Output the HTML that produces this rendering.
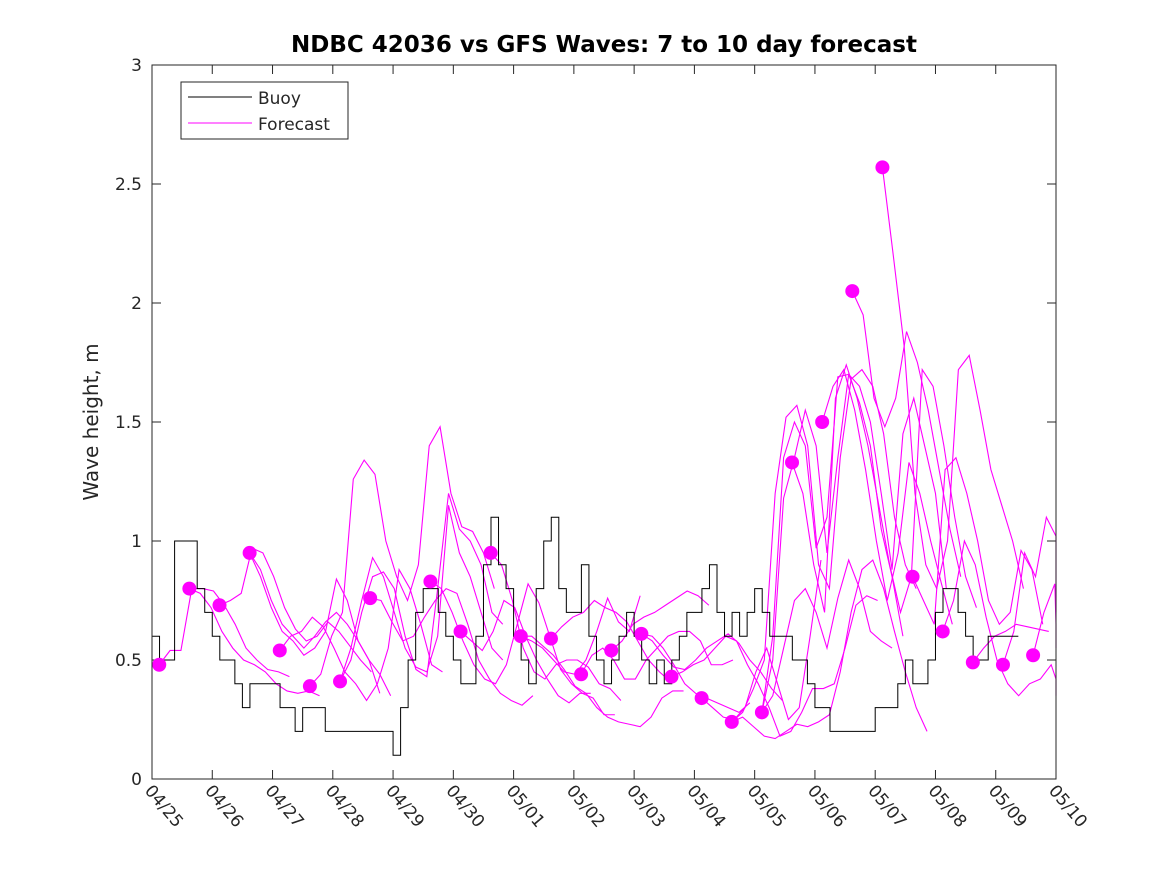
<!DOCTYPE html>
<html><head><meta charset="utf-8"><style>
body{margin:0;background:#fff;}
svg text{font-family:"DejaVu Sans","Liberation Sans",sans-serif;fill:#262626;}
</style></head><body>
<svg id="chart" width="1167" height="875">
<rect x="0" y="0" width="1167" height="875" fill="#fff"/>
<text x="604" y="52" text-anchor="middle" font-size="23" font-weight="bold" style="fill:#000">NDBC 42036 vs GFS Waves: 7 to 10 day forecast</text>
<text transform="translate(98,422) rotate(-90)" text-anchor="middle" font-size="20">Wave height, m</text>
<g id="axes"></g>
<g id="fc"></g>
<g id="buoy"></g>
<g id="dots"></g>
<rect x="152" y="65" width="904" height="714" fill="none" stroke="#262626" stroke-width="1"/>
<g>
<rect x="181" y="82" width="167" height="57" fill="#fff" stroke="#262626"/>
<line x1="188" y1="97" x2="252" y2="97" stroke="#000"/>
<text x="258" y="104" font-size="17">Buoy</text>
<line x1="188" y1="123" x2="252" y2="123" stroke="#f0f"/>
<text x="258" y="130" font-size="17">Forecast</text>
</g>
</svg>
<script>
const xTickLabels=["04/25","04/26","04/27","04/28","04/29","04/30","05/01","05/02","05/03","05/04","05/05","05/06","05/07","05/08","05/09","05/10"];
const yTicks=[0,0.5,1,1.5,2,2.5,3];
const yTickLabels=["0","0.5","1","1.5","2","2.5","3"];
const buoyStep=0.125;
const buoy=[0.6,0.5,0.5,1.0,1.0,1.0,0.8,0.7,0.6,0.5,0.5,0.4,0.3,0.4,0.4,0.4,0.4,0.3,0.3,0.2,0.3,0.3,0.3,0.2,0.2,0.2,0.2,0.2,0.2,0.2,0.2,0.2,0.1,0.3,0.5,0.7,0.8,0.8,0.7,0.6,0.5,0.4,0.4,0.6,0.9,1.1,0.9,0.8,0.6,0.5,0.4,0.8,1.0,1.1,0.8,0.7,0.7,0.9,0.6,0.5,0.4,0.5,0.6,0.7,0.6,0.5,0.4,0.5,0.4,0.5,0.6,0.7,0.7,0.8,0.9,0.7,0.6,0.7,0.6,0.7,0.8,0.7,0.6,0.6,0.6,0.5,0.5,0.4,0.3,0.3,0.2,0.2,0.2,0.2,0.2,0.2,0.3,0.3,0.3,0.4,0.5,0.4,0.4,0.5,0.7,0.8,0.8,0.7,0.6,0.5,0.5,0.6,0.6,0.6,0.6];
const fcStep=0.18;
const fcStart=[0.12,0.62,1.12,1.62,1.62,2.12,2.62,3.12,3.12,3.62,4.62,5.12,5.62,6.12,6.12,6.62,7.12,7.62,8.12,8.12,8.62,9.12,9.62,10.12,10.12,10.62,11.12,11.62,12.12,10.12,9.62,12.62,13.12,13.62,14.12,14.62];
const fc0=[0.48,0.54,0.54,0.80,0.80,0.79,0.73,0.65,0.55,0.50,0.46,0.45,0.43];
const fc1=[0.80,0.78,0.72,0.62,0.55,0.50,0.48,0.45,0.40,0.37,0.36,0.37,0.35];
const fc2=[0.73,0.75,0.78,0.97,0.95,0.85,0.72,0.63,0.58,0.60,0.66,0.62,0.56,0.50,0.45];
const fc3=[0.95,0.88,0.75,0.65,0.60,0.55,0.60,0.66,0.70,0.65,0.58,0.50,0.44,0.35];
const fc4=[0.95,0.85,0.72,0.62,0.58,0.52,0.55,0.62,0.84,0.75,0.58,0.50,0.36];
const fc5=[0.54,0.60,0.62,0.68,0.64,0.55,0.45,0.40,0.33,0.40,0.55,0.88,0.80,0.65,0.48,0.45];
const fc6=[0.39,0.44,0.60,0.70,1.26,1.34,1.28,1.0,0.85,0.75,0.90,1.40,1.48,1.20,1.06,1.04,0.95,0.80];
const fc7=[0.41,0.50,0.70,0.85,0.87,0.80,0.60,0.46,0.43,0.80,1.20,1.05,1.00,0.90,0.70,0.65];
const fc8=[0.41,0.55,0.75,0.93,0.85,0.70,0.55,0.47,0.45,0.60,1.15,0.95,0.85,0.70,0.55,0.50];
const fc9=[0.76,0.75,0.66,0.58,0.60,0.68,0.75,0.80,0.78,0.65,0.50,0.42,0.36,0.33,0.31,0.35];
const fc10=[0.83,0.80,0.70,0.58,0.48,0.42,0.40,0.48,0.65,0.82,0.74,0.60,0.46,0.40,0.36,0.34,0.27,0.27];
const fc11=[0.62,0.58,0.54,0.62,0.75,0.72,0.60,0.50,0.42,0.35,0.32,0.36,0.36];
const fc12=[0.95,0.90,0.75,0.55,0.45,0.42,0.48,0.50,0.50,0.47,0.40,0.38,0.33];
const fc13=[0.60,0.58,0.55,0.50,0.45,0.44,0.50,0.62,0.76,0.66,0.62,0.77];
const fc14=[0.60,0.60,0.56,0.52,0.46,0.39,0.36,0.30,0.26,0.24,0.23,0.22,0.26,0.34,0.37,0.37];
const fc15=[0.59,0.64,0.68,0.70,0.75,0.72,0.70,0.66,0.58,0.50,0.45,0.41];
const fc16=[0.44,0.52,0.55,0.50,0.42,0.42,0.50,0.55,0.60,0.62,0.62,0.58,0.48,0.48,0.50];
const fc17=[0.54,0.58,0.65,0.68,0.70,0.73,0.76,0.79,0.77,0.73];
const fc18=[0.61,0.60,0.55,0.48,0.40,0.36,0.34,0.32,0.30,0.28,0.32];
const fc19=[0.61,0.58,0.52,0.47,0.46,0.50,0.55,0.58,0.61,0.57,0.50,0.45,0.38,0.33];
const fc20=[0.43,0.45,0.48,0.50,0.55,0.60,0.58,0.48,0.40,0.30,0.18,0.20,0.28,0.38,0.38,0.40,0.55,0.73,0.77,0.75];
const fc21=[0.34,0.30,0.26,0.25,0.30,0.45,0.55,0.40,0.25,0.30,0.60,0.92];
const fc22=[0.24,0.28,0.38,0.50,1.20,1.52,1.57,1.40,0.90,0.80,1.35,1.68,1.72,1.65,1.45,1.10,0.90,0.80];
const fc23=[0.28,0.60,1.35,1.50,1.40,0.97,1.10,1.69,1.70,1.58,1.40,1.05,0.85,0.60];
const fc24=[0.28,0.50,1.18,1.35,1.55,1.40,0.95,1.35,1.70,1.65,1.50,1.20,0.88,1.45,1.60,1.40,1.20,0.80];
const fc25=[1.33,1.20,0.90,0.70,1.60,1.74,1.60,1.40,1.15,0.90,0.70,0.85,1.72,1.65,1.40,1.10,0.85,0.72];
const fc26=[1.50,1.65,1.72,1.55,1.30,1.00,0.75,0.95,1.33,1.20,1.00,0.82,0.65];
const fc27=[2.05,1.95,1.60,1.48,1.60,1.88,1.75,1.55,1.30,1.05,0.85];
const fc28=[2.57,2.20,1.82,1.20,0.90,0.80,1.0,1.72,1.78,1.55,1.30,1.15,1.00,0.80];
const fc29=[0.28,0.35,0.55,0.75,0.80,0.70,0.55,0.76,0.92,0.80,0.62,0.58,0.55];
const fc30=[0.24,0.26,0.22,0.18,0.17,0.20,0.23,0.22,0.24,0.27,0.45,0.70,0.88,0.92,0.80,0.62,0.45,0.30,0.20];
const fc31=[0.85,0.75,0.65,1.30,1.35,1.20,1.00,0.75,0.65,0.70,0.96,0.88,0.65];
const fc32=[0.62,0.75,1.00,0.90,0.68,0.50,0.40,0.35,0.40,0.42,0.48,0.42,0.35];
const fc33=[0.49,0.55,0.60,0.62,0.65,0.64,0.63,0.62];
const fc34=[0.48,0.62,0.95,0.85,1.10,1.02,0.70];
const fc35=[0.52,0.70,0.82,0.65,0.55];
const fcSeries=[fc0,fc1,fc2,fc3,fc4,fc5,fc6,fc7,fc8,fc9,fc10,fc11,fc12,fc13,fc14,fc15,fc16,fc17,fc18,fc19,fc20,fc21,fc22,fc23,fc24,fc25,fc26,fc27,fc28,fc29,fc30,fc31,fc32,fc33,fc34,fc35];
const dotDays=[0.12,0.62,1.12,1.62,2.12,2.62,3.12,3.62,4.62,5.12,5.62,6.12,6.62,7.12,7.62,8.12,8.62,9.12,9.62,10.12,10.62,11.12,11.62,12.12,12.62,13.12,13.62,14.12,14.62];
const dotVals=[0.48,0.80,0.73,0.95,0.54,0.39,0.41,0.76,0.83,0.62,0.95,0.60,0.59,0.44,0.54,0.61,0.43,0.34,0.24,0.28,1.33,1.50,2.05,2.57,0.85,0.62,0.49,0.48,0.52];

const NS="http://www.w3.org/2000/svg";
const X0=152,X1=1056,Y0=779,Y1=65;
function xs(d){return X0+d*(X1-X0)/15;}
function ys(v){return Y0-v*(Y0-Y1)/3;}
function mk(tag,attrs,parent){const e=document.createElementNS(NS,tag);for(const k in attrs)e.setAttribute(k,attrs[k]);parent.appendChild(e);return e;}
const axes=document.getElementById('axes');
yTicks.forEach((t,i)=>{
  const y=ys(t);
  const a=mk('line',{x1:X0,y1:y,x2:X0+9,y2:y,stroke:'#262626'},axes);
  
  
  const b=mk('line',{x1:X1-9,y1:y,x2:X1,y2:y,stroke:'#262626'},axes);
  
  
  const tx=mk('text',{x:X0-10,y:y+6,'text-anchor':'end','font-size':17},axes);
  tx.textContent=yTickLabels[i];
  
  
});
xTickLabels.forEach((l,i)=>{
  const x=xs(i);
  const a=mk('line',{x1:x,y1:Y0,x2:x,y2:Y0-9,stroke:'#262626'},axes);
  
  
  const b=mk('line',{x1:x,y1:Y1,x2:x,y2:Y1+9,stroke:'#262626'},axes);
  
  
  const tx=mk('text',{transform:`translate(${x-8},${Y0+12}) rotate(50)`,'font-size':17},axes);
  tx.textContent=l;
  
  
});
const fcG=document.getElementById('fc');
fcSeries.forEach((s,k)=>{
  const pts=s.map((v,i)=>xs(Math.min(15,fcStart[k]+i*fcStep))+','+ys(v)).join(' ');
  const p=mk('polyline',{points:pts,fill:'none',stroke:'#ff00ff','stroke-width':1.1},fcG);
  
  
});
let d='';
buoy.forEach((v,i)=>{
  const x0=xs(i*buoyStep),x1=xs((i+1)*buoyStep);
  d+=(i===0?'M':'L')+x0+','+ys(v)+'L'+x1+','+ys(v);
});
const bp=mk('path',{d:d,fill:'none',stroke:'#000','stroke-width':1},document.getElementById('buoy'));


const dg=document.getElementById('dots');
dotDays.forEach((t,i)=>{
  const c=mk('circle',{cx:xs(t),cy:ys(dotVals[i]),r:7,fill:'#ff00ff'},dg);
  
  
});
</script>
</body></html>
